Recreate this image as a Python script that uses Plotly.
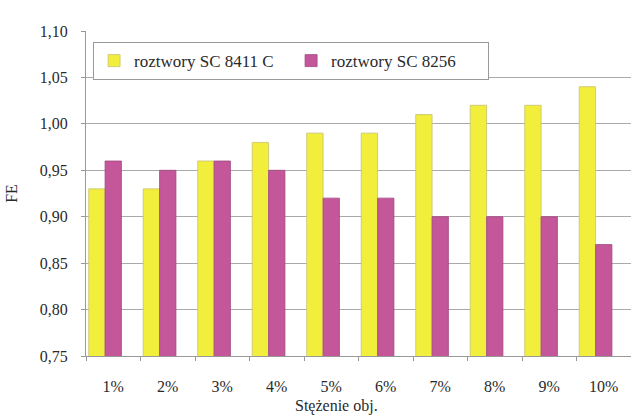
import plotly.graph_objects as go

categories = ["1%", "2%", "3%", "4%", "5%", "6%", "7%", "8%", "9%", "10%"]
sc_8411c = [0.93, 0.93, 0.96, 0.98, 0.99, 0.99, 1.01, 1.02, 1.02, 1.04]
sc_8256 = [0.96, 0.95, 0.96, 0.95, 0.92, 0.92, 0.90, 0.90, 0.90, 0.87]
y_ticks = [0.75, 0.80, 0.85, 0.90, 0.95, 1.00, 1.05, 1.10]
y_tick_text = [f"{v:.2f}".replace(".", ",") for v in y_ticks]

FONT = "Liberation Serif, Times New Roman, serif"
TEXT = "#2a2a2a"

fig = go.Figure()
fig.add_trace(go.Bar(
    x=categories, y=sc_8411c, name="roztwory SC 8411 C",
    width=0.30, offset=-0.45,
    marker=dict(color="#f2ee3c", line=dict(color="#c8c070", width=0.8)),
))
fig.add_trace(go.Bar(
    x=categories, y=sc_8256, name="roztwory SC 8256",
    width=0.30, offset=-0.15,
    marker=dict(color="#c4569a", line=dict(color="#a04a80", width=0.8)),
))

fig.update_layout(
    width=631, height=418,
    margin=dict(l=86, r=0, t=31, b=62),
    paper_bgcolor="white", plot_bgcolor="white",
    barmode="overlay",
    font=dict(family=FONT, size=16, color=TEXT),
    legend=dict(
        orientation="h", x=0.013, y=0.966, xanchor="left", yanchor="top",
        bordercolor="#999999", borderwidth=1, bgcolor="white",
        font=dict(family=FONT, size=17, color=TEXT),
        itemwidth=30, entrywidth=152,
    ),
    xaxis=dict(
        showline=True, linecolor="#999999", linewidth=1,
        tickson="boundaries", ticks="outside", ticklen=4, tickcolor="#999999",
        ticklabelstandoff=16,
        tickfont=dict(family=FONT, size=16, color=TEXT),
        showgrid=False,
    ),
    yaxis=dict(
        title=dict(text="FE", font=dict(family=FONT, size=16, color=TEXT), standoff=18),
        range=[0.75, 1.10], tickvals=y_ticks, ticktext=y_tick_text,
        showline=True, linecolor="#999999", linewidth=1,
        showgrid=True, gridcolor="#aaaaaa", gridwidth=1,
        ticks="outside", ticklen=4, tickcolor="#999999",
        ticklabelstandoff=10,
        tickfont=dict(family=FONT, size=16, color=TEXT),
        zeroline=False,
    ),
    annotations=[dict(
        text="Stężenie obj.", xref="paper", yref="paper",
        x=0.459, y=-0.155, xanchor="center", yanchor="middle",
        showarrow=False, font=dict(family=FONT, size=16, color=TEXT),
    )],
)

fig.write_html("out.html")
